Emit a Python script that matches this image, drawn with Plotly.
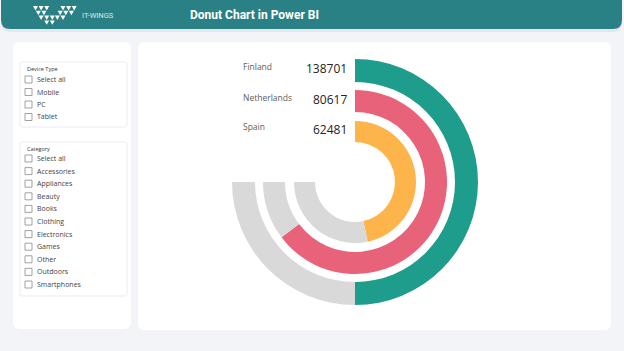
import plotly.graph_objects as go

W, H = 624, 351

# ---------------- data ----------------
countries = ["Finland", "Netherlands", "Spain"]
values = [138701, 80617, 62481]
remaining = [69350, 12800, 37970]          # grey remainder of each ring
ring_colors = ["#1E9C8C", "#E8637A", "#FDB44B"]
rest_color = "#D9D9D9"

device_types = ["Select all", "Mobile", "PC", "Tablet"]
categories = ["Select all", "Accessories", "Appliances", "Beauty", "Books",
              "Clothing", "Electronics", "Games", "Other", "Outdoors", "Smartphones"]

title = "Donut Chart in Power BI"
brand = "IT-WINGS"

# ---------------- helpers ----------------
def px(x):
    return x / W


def py(y):
    return 1 - y / H


def rrect(x0, y0, x1, y1, r, fill, line=None, lw=0, rb=True, rt=True):
    X0, X1, Y0, Y1 = px(x0), px(x1), py(y0), py(y1)
    rx, ry = r / W, r / H
    rtx, rty = (rx, ry) if rt else (0, 0)
    rbx, rby = (rx, ry) if rb else (0, 0)
    p = (f"M{X0+rtx},{Y0} L{X1-rtx},{Y0} Q{X1},{Y0} {X1},{Y0-rty} "
         f"L{X1},{Y1+rby} Q{X1},{Y1} {X1-rbx},{Y1} L{X0+rbx},{Y1} "
         f"Q{X0},{Y1} {X0},{Y1+rby} L{X0},{Y0-rty} Q{X0},{Y0} {X0+rtx},{Y0} Z")
    return dict(type="path", xref="paper", yref="paper", path=p, fillcolor=fill,
                line=dict(color=line or "rgba(0,0,0,0)", width=lw), layer="below")


def tri(x0, y0, w, h, down=True):
    if down:
        pts = [(x0, y0), (x0 + w, y0), (x0 + w / 2, y0 + h)]
    else:
        pts = [(x0 + w / 2, y0), (x0 + w, y0 + h), (x0, y0 + h)]
    p = "M" + " L".join(f"{px(a)},{py(b)}" for a, b in pts) + " Z"
    return dict(type="path", xref="paper", yref="paper", path=p,
                fillcolor="white", line=dict(width=0), layer="below")


shapes = []
annotations = []

# page background panels
shapes.append(rrect(13, 42, 131, 329, 7, "white"))
shapes.append(rrect(138, 42, 611, 330, 7, "white"))

# header shadow + bar
shapes.append(rrect(1, 2, 622, 32, 9, "rgba(0,0,0,0.05)", rt=False))
shapes.append(rrect(1, 0, 622, 29, 9, "#2A8185", rt=False))

# logo (white triangles forming a W)
tw, th = 5.0, 4.4
rows = [
    (6.0, [33, 38.6, 44.2, 60.5, 66.1, 71.7]),
    (10.8, [35.8, 41.4, 57.7, 63.3, 68.9]),
    (15.6, [38.6, 44.2, 49.8, 54.9, 60.5]),
    (20.4, [44.2, 49.8]),
]
for y0, xs in rows:
    for x0 in xs:
        shapes.append(tri(x0, y0, tw, th, down=True))
annotations.append(dict(x=px(80), y=py(15.5), xref="paper", yref="paper", text=brand,
                        showarrow=False, xanchor="left", yanchor="middle",
                        font=dict(family="Roboto", size=7.5, color="rgba(255,255,255,0.85)")))

annotations.append(dict(x=px(254), y=py(15), xref="paper", yref="paper", text=f"<b>{title}</b>",
                        showarrow=False, xanchor="center", yanchor="middle",
                        font=dict(family="Roboto", size=12, color="white")))

# ---------------- slicers ----------------
def slicer(top, bottom, heading, items, first_y, step):
    shapes.append(rrect(20, top, 127, bottom, 2, "white", line="#ECECF1", lw=1))
    annotations.append(dict(x=px(25), y=py(top + 6.5), xref="paper", yref="paper",
                            text=heading, showarrow=False, xanchor="left", yanchor="middle",
                            font=dict(family="Open Sans", size=5.5, color="#333333")))
    for i, it in enumerate(items):
        yc = first_y + i * step
        shapes.append(dict(type="rect", xref="paper", yref="paper",
                           x0=px(25), x1=px(32), y0=py(yc - 3.5), y1=py(yc + 3.5),
                           line=dict(color="#8A8A8A", width=0.8), fillcolor="white",
                           layer="below"))
        annotations.append(dict(x=px(35), y=py(yc), xref="paper", yref="paper",
                                text=it, showarrow=False, xanchor="left", yanchor="middle",
                                font=dict(family="Open Sans", size=7, color="#444444")))


slicer(62, 127, "Device Type", device_types, 79.5, 12.5)
slicer(142, 296, "Category", categories, 158.5, 12.6)

# ---------------- radial donut ----------------
cx, cy = 355, 182
outer_r = [123, 92, 61]
inner_r = [100, 70, 40]

fig = go.Figure()
for i, c in enumerate(countries):
    total = values[i] + remaining[i]
    r = outer_r[i]
    fig.add_trace(go.Pie(
        labels=[c, c + " rest", c + " gap"],
        values=[values[i], remaining[i], total / 3],
        marker=dict(colors=[ring_colors[i], rest_color, "rgba(0,0,0,0)"], line=dict(width=0)),
        hole=inner_r[i] / r,
        sort=False, direction="clockwise", rotation=0,
        textinfo="none", hoverinfo="label+value", showlegend=False,
        domain=dict(x=[px(cx - r), px(cx + r)], y=[py(cy + r), py(cy - r)]),
    ))

label_y = [66, 97, 126]
value_y = [69, 99, 129]
for i, c in enumerate(countries):
    annotations.append(dict(x=px(241), y=py(label_y[i]), xref="paper", yref="paper",
                            text=c, showarrow=False, xanchor="left", yanchor="middle",
                            font=dict(family="Open Sans", size=8.5, color="#605E5C")))
    annotations.append(dict(x=px(349), y=py(value_y[i]), xref="paper", yref="paper",
                            text=str(values[i]), showarrow=False, xanchor="right", yanchor="middle",
                            font=dict(family="Open Sans", size=12, color="#252423")))

fig.update_layout(
    width=W, height=H,
    margin=dict(l=0, r=0, t=0, b=0),
    paper_bgcolor="#F3F4F8",
    plot_bgcolor="#F3F4F8",
    shapes=shapes,
    annotations=annotations,
)

fig.write_html("out.html")
